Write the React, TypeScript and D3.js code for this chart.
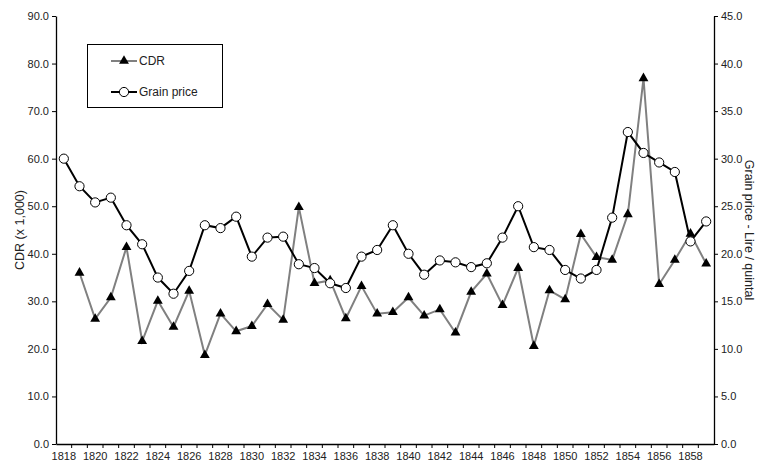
import React, { useRef, useEffect } from "react";
import * as d3 from "d3";

const years = d3.range(1818, 1860);
const cdrYears = d3.range(1819, 1860);
const cdr = [
  36.0, 26.3, 30.8, 41.4, 21.6, 30.1, 24.6, 32.2, 18.7, 27.4, 23.7, 24.8, 29.4,
  26.1, 49.8, 33.8, 34.4, 26.4, 33.2, 27.4, 27.7, 30.8, 27.0, 28.3, 23.4, 32.0,
  35.8, 29.2, 37.0, 20.6, 32.3, 30.4, 44.1, 39.3, 38.7, 48.3, 76.9, 33.6, 38.7,
  44.2, 37.9,
];
const grain = [
  30.0, 27.1, 25.4, 25.9, 23.0, 21.0, 17.5, 15.8, 18.2, 23.0, 22.7, 23.9, 19.7,
  21.7, 21.8, 18.9, 18.5, 16.9, 16.4, 19.7, 20.4, 23.0, 20.0, 17.8, 19.3, 19.1,
  18.6, 19.0, 21.7, 25.0, 20.7, 20.4, 18.3, 17.4, 18.3, 23.8, 32.8, 30.6, 29.6,
  28.6, 21.3, 23.4,
];
const leftTicks = d3.range(0, 91, 10);
const rightTicks = d3.range(0, 46, 5);
const legendItems = ["CDR", "Grain price"];

const W = 757;
const H = 467;
const m = { top: 16, right: 43, bottom: 23, left: 56 };
const font = "'Liberation Sans', Arial, sans-serif";

export default function App() {
  const svgRef = useRef<SVGSVGElement>(null);

  useEffect(() => {
    const svg = d3.select(svgRef.current);
    svg.selectAll("*").remove();

    const x = d3
      .scaleBand<number>()
      .domain(years)
      .range([m.left, W - m.right])
      .padding(0);
    const cx = (yr: number) => (x(yr) as number) + x.bandwidth() / 2;
    const yL = d3.scaleLinear().domain([0, 90]).range([H - m.bottom, m.top]);
    const yR = d3.scaleLinear().domain([0, 45]).range([H - m.bottom, m.top]);

    // left axis
    const gl = svg
      .append("g")
      .attr("transform", `translate(${m.left},0)`)
      .call(
        d3.axisLeft(yL).tickValues(leftTicks).tickFormat(d3.format(".1f")).tickSize(4).tickSizeOuter(0)
      );
    // right axis
    const gr = svg
      .append("g")
      .attr("transform", `translate(${W - m.right},0)`)
      .call(
        d3.axisRight(yR).tickValues(rightTicks).tickFormat(d3.format(".1f")).tickSize(4).tickSizeOuter(0)
      );
    // bottom axis: labels every 2 years
    const gb = svg
      .append("g")
      .attr("transform", `translate(0,${H - m.bottom})`)
      .call(
        d3
          .axisBottom(x)
          .tickValues(years.filter((d) => d % 2 === 0))
          .tickSize(0)
          .tickPadding(8)
          .tickSizeOuter(0)
      );
    // boundary ticks
    gb.selectAll("line.bnd")
      .data(years.slice(1))
      .enter()
      .append("line")
      .attr("class", "bnd")
      .attr("x1", (d) => x(d) as number)
      .attr("x2", (d) => x(d) as number)
      .attr("y1", 0)
      .attr("y2", 4)
      .attr("stroke", "#000");

    [gl, gr, gb].forEach((g) => {
      g.selectAll("path.domain").attr("stroke", "#000").attr("stroke-width", 1.3);
      g.selectAll(".tick line").attr("stroke", "#000");
      g.selectAll("text")
        .attr("font-family", font)
        .attr("font-size", 11)
        .attr("fill", "#222");
    });

    // axis titles
    svg
      .append("text")
      .attr("transform", `translate(24,${(m.top + H - m.bottom) / 2}) rotate(-90)`)
      .attr("text-anchor", "middle")
      .attr("font-family", font)
      .attr("font-size", 12.5)
      .attr("fill", "#222")
      .text("CDR (x 1,000)");
    svg
      .append("text")
      .attr("transform", `translate(745,${(m.top + H - m.bottom) / 2}) rotate(90)`)
      .attr("text-anchor", "middle")
      .attr("font-family", font)
      .attr("font-size", 12.5)
      .attr("fill", "#222")
      .text("Grain price - Lire / quintal");

    const cdrData = cdrYears.map((yr, i) => ({ yr, v: cdr[i] }));
    const grainData = years.map((yr, i) => ({ yr, v: grain[i] }));

    const lineL = d3
      .line<{ yr: number; v: number }>()
      .x((d) => cx(d.yr))
      .y((d) => yL(d.v));
    const lineR = d3
      .line<{ yr: number; v: number }>()
      .x((d) => cx(d.yr))
      .y((d) => yR(d.v));

    svg
      .append("path")
      .datum(cdrData)
      .attr("d", lineL)
      .attr("fill", "none")
      .attr("stroke", "#808080")
      .attr("stroke-width", 2);
    svg
      .append("path")
      .datum(grainData)
      .attr("d", lineR)
      .attr("fill", "none")
      .attr("stroke", "#000")
      .attr("stroke-width", 2);

    const tri = d3.symbol().type(d3.symbolTriangle).size(42);
    svg
      .append("g")
      .selectAll("path")
      .data(cdrData)
      .enter()
      .append("path")
      .attr("d", tri)
      .attr("transform", (d) => `translate(${cx(d.yr)},${yL(d.v)})`)
      .attr("fill", "#000");

    svg
      .append("g")
      .selectAll("circle")
      .data(grainData)
      .enter()
      .append("circle")
      .attr("cx", (d) => cx(d.yr))
      .attr("cy", (d) => yR(d.v))
      .attr("r", 4.6)
      .attr("fill", "#fff")
      .attr("stroke", "#000")
      .attr("stroke-width", 1);

    // legend
    const lg = svg.append("g");
    lg.append("rect")
      .attr("x", 87.5)
      .attr("y", 44.5)
      .attr("width", 135)
      .attr("height", 63)
      .attr("fill", "#fff")
      .attr("stroke", "#000");
    const rows = lg
      .selectAll("g.row")
      .data(legendItems)
      .enter()
      .append("g")
      .attr("class", "row")
      .attr("transform", (_, i) => `translate(0,${61 + i * 31})`);
    rows
      .append("line")
      .attr("x1", 111)
      .attr("x2", 137)
      .attr("stroke", (_, i) => (i === 0 ? "#808080" : "#000"))
      .attr("stroke-width", 2);
    rows.each(function (_, i) {
      const r = d3.select(this);
      if (i === 0) {
        r.append("path").attr("d", tri).attr("transform", "translate(124,0)").attr("fill", "#000");
      } else {
        r.append("circle")
          .attr("cx", 124)
          .attr("r", 4.6)
          .attr("fill", "#fff")
          .attr("stroke", "#000");
      }
    });
    rows
      .append("text")
      .attr("x", 139)
      .attr("dy", "0.35em")
      .attr("font-family", font)
      .attr("font-size", 12)
      .attr("fill", "#222")
      .text((d) => d);
  }, []);

  return (
    <div style={{ position: "absolute", left: 0, top: 0 }}>
      <svg ref={svgRef} width={W} height={H} style={{ display: "block", background: "#fff" }} />
    </div>
  );
}
